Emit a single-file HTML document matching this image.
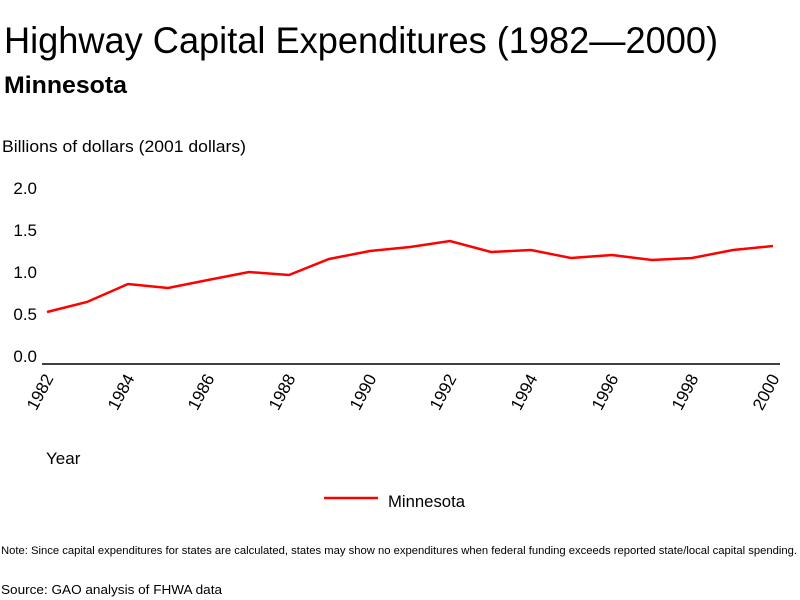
<!DOCTYPE html>
<html><head><style>body{margin:0;background:#fff}svg{display:block}text{font-family:"Liberation Sans",sans-serif;fill:#000}</style></head>
<body>
<svg width="800" height="600" viewBox="0 0 800 600">
<text x="4" y="53" font-size="37" textLength="714" lengthAdjust="spacingAndGlyphs">Highway Capital Expenditures (1982—2000)</text>
<text x="4" y="93" font-size="24" font-weight="bold" textLength="123" lengthAdjust="spacingAndGlyphs">Minnesota</text>
<text x="2" y="152" font-size="17" textLength="244" lengthAdjust="spacingAndGlyphs">Billions of dollars (2001 dollars)</text>
<g font-size="17" text-anchor="end">
<text x="37" y="194">2.0</text><text x="37" y="236">1.5</text><text x="37" y="278">1.0</text><text x="37" y="320">0.5</text><text x="37" y="362">0.0</text>
</g>
<line x1="42" y1="364" x2="780" y2="364" stroke="#000" stroke-width="1.5"/>
<polyline fill="none" stroke="#f00" stroke-width="2.5" points="47,312 87,302 128,284 168,288 208,280 249,272 289,275 329,259 370,251 410,247 450,241 491,252 531,250 571,258 612,255 652,260 692,258 733,250 773,246"/>
<g font-size="17" text-anchor="end">
<text transform="translate(54,378) rotate(-62)">1982</text>
<text transform="translate(135,378) rotate(-62)">1984</text>
<text transform="translate(215,378) rotate(-62)">1986</text>
<text transform="translate(296,378) rotate(-62)">1988</text>
<text transform="translate(377,378) rotate(-62)">1990</text>
<text transform="translate(457,378) rotate(-62)">1992</text>
<text transform="translate(538,378) rotate(-62)">1994</text>
<text transform="translate(619,378) rotate(-62)">1996</text>
<text transform="translate(699,378) rotate(-62)">1998</text>
<text transform="translate(780,378) rotate(-62)">2000</text>
</g>
<text x="46" y="464" font-size="17">Year</text>
<line x1="324" y1="498" x2="378" y2="498" stroke="#f00" stroke-width="2.5"/>
<text x="388" y="507" font-size="17" textLength="77" lengthAdjust="spacingAndGlyphs">Minnesota</text>
<text x="1" y="554" font-size="11" textLength="796" lengthAdjust="spacingAndGlyphs">Note: Since capital expenditures for states are calculated, states may show no expenditures when federal funding exceeds reported state/local capital spending.</text>
<text x="1" y="594" font-size="13" textLength="221" lengthAdjust="spacingAndGlyphs">Source: GAO analysis of FHWA data</text>
</svg>
</body></html>
